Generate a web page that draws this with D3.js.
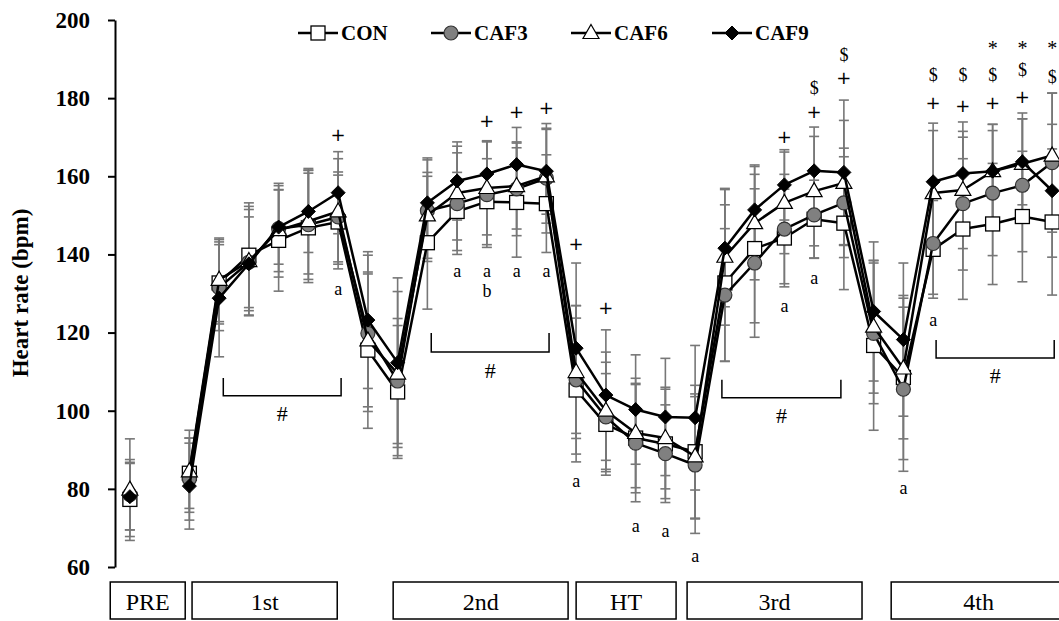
<!DOCTYPE html>
<html><head><meta charset="utf-8">
<script src="https://cdn.jsdelivr.net/npm/d3@7"></script>
<style>body{margin:0;background:#fff} svg{display:block} text{-webkit-font-smoothing:antialiased}</style>
</head><body><svg id="c" width="1059" height="621"></svg>
<script>
// ---- data ----
const categories = ["PRE","","R0","E1-1","E1-2","E1-3","E1-4","E1-5","R1-1","R1-2",
  "E2-1","E2-2","E2-3","E2-4","E2-5","HT-1","HT-2","HT-3","HT-4","HT-5",
  "E3-1","E3-2","E3-3","E3-4","E3-5","R3-1","R3-2","E4-1","E4-2","E4-3","E4-4","E4-5"];
const seriesNames = ["CON","CAF3","CAF6","CAF9"];
const CON  = [77.3,null,84.0,132.7,139.8,143.6,146.8,148.3,115.5,104.8,143.0,151.0,153.5,153.3,153.0,105.3,96.5,93.0,91.5,89.5,132.7,141.5,144.2,149.0,148.0,116.7,108.5,141.3,146.5,147.8,149.7,148.3];
const CAF3 = [78.5,null,82.5,131.5,138.0,146.6,147.6,149.6,119.8,107.6,151.2,153.0,155.3,156.8,159.5,107.9,98.4,91.7,89.0,86.1,129.6,137.8,146.5,150.1,153.2,119.8,105.5,142.8,153.0,155.7,157.7,163.5];
const CAF6 = [79.8,null,84.5,133.5,138.3,146.2,148.5,151.0,118.0,109.5,150.0,155.7,157.0,157.5,160.0,109.9,100.0,94.3,93.0,88.3,139.4,148.0,153.2,156.2,158.3,121.5,110.8,155.7,156.5,161.3,163.2,165.3];
const CAF9 = [78.0,null,80.7,128.8,137.6,147.0,151.0,155.8,123.2,112.3,153.2,158.8,160.6,163.0,161.3,116.0,104.0,100.3,98.4,98.2,141.6,151.4,157.8,161.4,161.0,125.4,118.2,158.6,160.7,161.3,163.7,156.3];
const CON_SD  = [9.5,null,9,10.5,13.4,13,14,12,20,17,17,10,11,14,12.5,18.4,13,14,14,17,20,19,12.5,10,17,21.7,21,12.5,18,15.5,16.7,18.7];
const CAF3_SD = [9,null,10.5,11,13.5,11,14,11.5,20,16,13,13,13.5,12,14,19,14,15,12.5,17.5,17,19,14,11,14,18,21,13,17,16,17,17.8];
const CAF6_SD = [13,null,10.5,10.7,14,12,13.5,13.5,17,21,11,12,12,11,12,17,15,14,13,16,17.5,14.5,13,14,16,17,18,16,15,12,13,16];
const CAF9_SD = [8.5,null,11,15,12,9.5,10.5,10.5,17.5,21.7,11.5,10,8.5,9.5,11,21.8,16.7,14,15,18.5,15,11.5,9,11.2,18.5,17.8,19.6,15,13.2,12,11,17];
const yTicks = [60,80,100,120,140,160,180,200];
const phaseLabels = ["PRE","1st","2nd","HT","3rd","4th"];
const phaseFrom   = [-0.66,2.09,8.85,15.0,18.73,25.59];
const phaseTo     = [1.86,6.97,14.73,18.36,24.61,31.47];
const plusIdx  = [7,12,13,14,15,16,22,23,24,27,28,29,30];
const plusVal  = [170.6,174.4,176.5,177.5,142.9,126.3,170.1,176.5,185.2,178.8,178.2,178.8,180.3];
const dollarIdx = [23,24,27,28,29,30,31];
const dollarVal = [182.6,191.0,185.9,185.9,185.9,187.2,185.4];
const starIdx = [29,30,31];
const starVal = [194.1,194.1,194.1];
const letterText = ["a","a","a","a","a","b","a","a","a","a","a","a","a","a"];
const letterIdx  = [7,11,12,13,14,12,15,17,18,19,22,23,26,27];
const letterVal  = [130.6,135.2,135.2,135.2,135.2,130.1,81.5,70.0,68.7,62.3,126.3,133.5,79.7,122.7];
const bracketFrom = [3.14,10.13,19.9,27.1];
const bracketTo   = [7.1,14.09,23.9,31.07];
const bracketTop  = [108.4,119.9,107.9,118.1];
const bracketBot  = [103.8,115.0,103.3,113.5];

// ---- drawing ----
const svg = d3.select("#c");
const serif = "'Liberation Serif','Times New Roman',serif";
const sans = "'DejaVu Sans',sans-serif";
const x = d3.scaleLinear().domain([-0.5, categories.length - 0.5]).range([115, 1067]);
const y = d3.scaleLinear().domain([60, 200]).range([567, 20]);

// y axis
const ax = svg.append("g").attr("transform","translate(115,0)")
  .call(d3.axisLeft(y).tickValues(yTicks).tickSize(7).tickSizeOuter(0).tickPadding(18));
ax.select(".domain").attr("stroke","#000").attr("stroke-width",2);
ax.selectAll(".tick line").attr("stroke","#000").attr("stroke-width",2);
ax.selectAll(".tick text").attr("font-family",serif).attr("font-weight","bold")
  .attr("font-size",23).attr("fill","#000");

svg.append("text").attr("transform","translate(28,293) rotate(-90)")
  .attr("text-anchor","middle").attr("font-family",serif).attr("font-weight","bold")
  .attr("font-size",23).text("Heart rate (bpm)");

const series = [
  {name:"CON", v:CON, sd:CON_SD, shape:"square", fill:"#fff"},
  {name:"CAF3", v:CAF3, sd:CAF3_SD, shape:"circle", fill:"#808080"},
  {name:"CAF6", v:CAF6, sd:CAF6_SD, shape:"triangle", fill:"#fff"},
  {name:"CAF9", v:CAF9, sd:CAF9_SD, shape:"diamond", fill:"#000"}
];

// error bars
const eb = svg.append("g").attr("stroke","#777").attr("stroke-width",1.6);
series.forEach(s => {
  s.v.forEach((v,i) => {
    if (v == null) return;
    const xi = x(i), y1 = y(v + s.sd[i]), y0 = y(v - s.sd[i]);
    eb.append("line").attr("x1",xi).attr("x2",xi).attr("y1",y1).attr("y2",y0);
    eb.append("line").attr("x1",xi-5).attr("x2",xi+5).attr("y1",y1).attr("y2",y1);
    eb.append("line").attr("x1",xi-5).attr("x2",xi+5).attr("y1",y0).attr("y2",y0);
  });
});

function marker(g, shape, fill, cx, cy) {
  if (shape === "square") {
    g.append("rect").attr("x",cx-7).attr("y",cy-7).attr("width",14).attr("height",14)
      .attr("fill",fill).attr("stroke","#000").attr("stroke-width",1.3);
  } else if (shape === "circle") {
    g.append("circle").attr("cx",cx).attr("cy",cy).attr("r",7)
      .attr("fill",fill).attr("stroke","#333").attr("stroke-width",1.2);
  } else if (shape === "triangle") {
    g.append("path").attr("d",`M${cx},${cy-8.5}L${cx+8},${cy+5.5}L${cx-8},${cy+5.5}Z`)
      .attr("fill",fill).attr("stroke","#000").attr("stroke-width",1.2);
  } else {
    g.append("path").attr("d",`M${cx},${cy-7}L${cx+7},${cy}L${cx},${cy+7}L${cx-7},${cy}Z`)
      .attr("fill",fill).attr("stroke","#000").attr("stroke-width",1);
  }
}

const line = d3.line().defined(d => d != null).x((d,i) => x(i)).y(d => y(d));
series.forEach(s => {
  const g = svg.append("g");
  g.append("path").datum(s.v).attr("d",line).attr("fill","none")
    .attr("stroke","#000").attr("stroke-width",2.5).attr("stroke-linejoin","round");
  s.v.forEach((v,i) => { if (v != null) marker(g, s.shape, s.fill, x(i), y(v)); });
});

// legend
const legX = [298, 431, 571, 712];
series.forEach((s,k) => {
  const g = svg.append("g");
  g.append("line").attr("x1",legX[k]).attr("x2",legX[k]+40).attr("y1",33).attr("y2",33)
    .attr("stroke","#000").attr("stroke-width",2.4);
  marker(g, s.shape, s.fill, legX[k]+20, 33);
  g.append("text").attr("x",legX[k]+43).attr("y",33).attr("dy","0.35em")
    .attr("font-family",serif).attr("font-weight","bold").attr("font-size",21).text(s.name);
});

// annotations
const ann = svg.append("g").attr("fill","#000").attr("text-anchor","middle");
plusIdx.forEach((i,k) => ann.append("text").attr("x",x(i)).attr("y",y(plusVal[k]))
  .attr("dominant-baseline","central").attr("font-family",sans).attr("font-size",18).text("+"));
dollarIdx.forEach((i,k) => ann.append("text").attr("x",x(i)).attr("y",y(dollarVal[k]))
  .attr("dominant-baseline","central").attr("font-family",serif).attr("font-size",18).text("$"));
starIdx.forEach((i,k) => ann.append("text").attr("x",x(i)).attr("y",y(starVal[k])+5)
  .attr("dominant-baseline","central").attr("font-family",serif).attr("font-size",20).text("*"));
letterIdx.forEach((i,k) => ann.append("text").attr("x",x(i)).attr("y",y(letterVal[k])-2)
  .attr("dominant-baseline","central").attr("font-family",serif).attr("font-size",18).text(letterText[k]));

// brackets
bracketFrom.forEach((f,k) => {
  const x0 = x(f), x1 = x(bracketTo[k]), yt = y(bracketTop[k]), yb = y(bracketBot[k]);
  svg.append("path").attr("d",`M${x0},${yt}V${yb}H${x1}V${yt}`)
    .attr("fill","none").attr("stroke","#000").attr("stroke-width",1.5);
  svg.append("text").attr("x",(x0+x1)/2).attr("y",yb+18).attr("text-anchor","middle")
    .attr("dominant-baseline","central").attr("font-family",serif).attr("font-size",22).text("#");
});

// phase boxes
phaseLabels.forEach((lab,k) => {
  const x0 = x(phaseFrom[k]), x1 = x(phaseTo[k]);
  svg.append("rect").attr("x",x0).attr("y",582).attr("width",x1-x0).attr("height",37)
    .attr("fill","#fff").attr("stroke","#000").attr("stroke-width",1.5);
  svg.append("text").attr("x",(x0+x1)/2).attr("y",610).attr("text-anchor","middle")
    .attr("font-family",serif).attr("font-size",24).text(lab);
});
</script></body></html>
